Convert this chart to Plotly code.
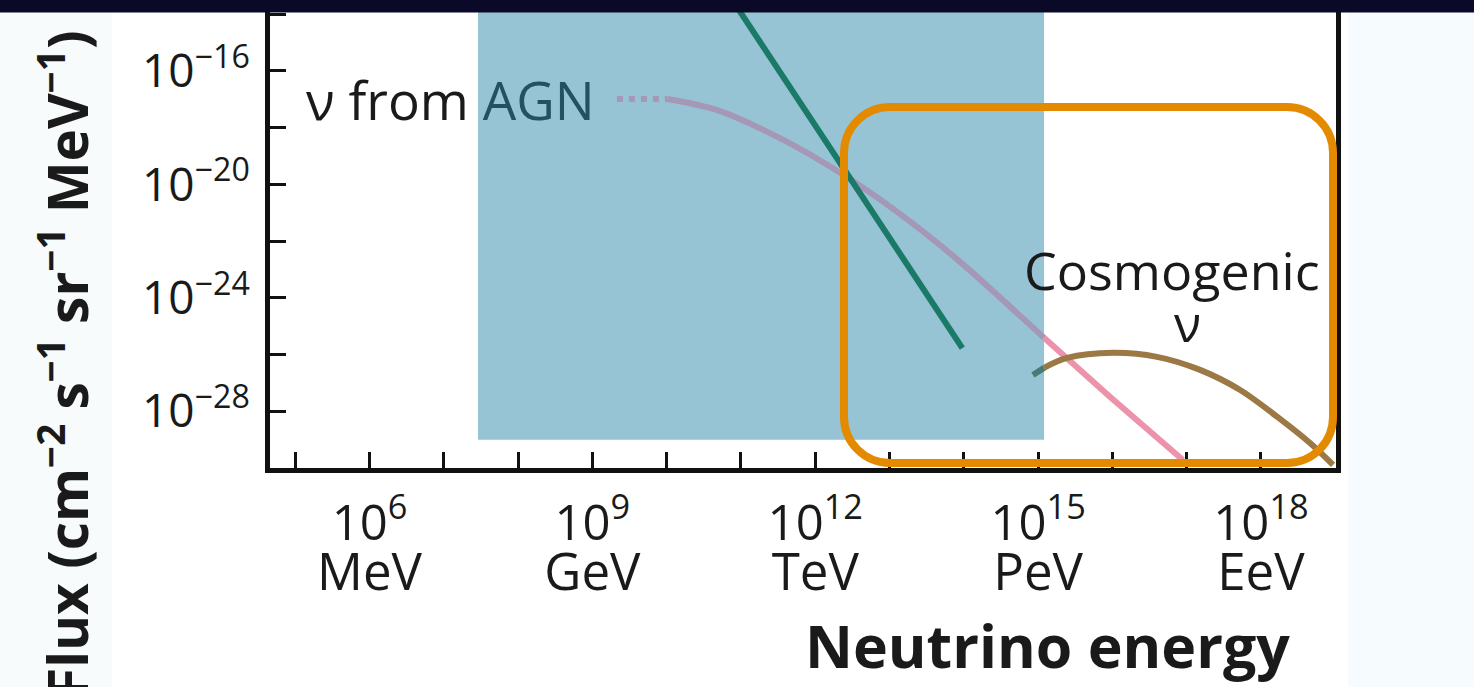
import plotly.graph_objects as go

# ---------------- data (log10 values) ----------------
# x: log10(energy / eV), y: log10(flux / cm^-2 s^-1 sr^-1 MeV^-1)
agn_dotted_logE = [9.33, 10.01]
agn_dotted_logF = [-16.99, -16.99]

agn_logE = [10.01, 10.68, 11.57, 12.34, 13.14, 13.95, 15.08]
agn_logF = [-16.99, -17.38, -18.43, -19.60, -21.04, -22.73, -25.41]

agn_tail_logE = [15.08, 15.97, 16.95]
agn_tail_logF = [-25.41, -27.50, -29.72]

atmo_logE = [10.95, 13.98]
atmo_logF = [-13.76, -25.77]

cosmo_in_band_logE = [14.93, 15.08]
cosmo_in_band_logF = [-26.72, -26.47]

cosmo_logE = [15.08, 15.39, 16.01, 16.60, 17.18, 17.72, 18.22, 18.66, 18.97]
cosmo_logF = [-26.47, -26.12, -25.94, -26.08, -26.54, -27.25, -28.20, -29.12, -29.89]

band_logE = [7.46, 15.08]
band_floor_logF = -29.0

x_tick_exps = list(range(5, 19))
x_label_exps = [6, 9, 12, 15, 18]
x_unit_labels = ["MeV", "GeV", "TeV", "PeV", "EeV"]
y_tick_exps = list(range(-28, -13, 2))
y_label_exps = [-28, -24, -20, -16]

x_range_log = [4.66, 19.01]
y_range_log = [-30.0, -13.92]

def p10(vals):
    return [10 ** v for v in vals]

# ---------------- figure ----------------
W, H = 1474, 687
L_PX, R_PX, T_PX, B_PX = 270, 1336, 12, 468
FONT = "Open Sans"
INK = "#1a1a1a"

fig = go.Figure()

fig.add_trace(go.Scatter(x=p10(agn_dotted_logE), y=p10(agn_dotted_logF), mode="lines",
                         line=dict(color="#a597b6", width=6, dash="dot"), hoverinfo="skip"))
fig.add_trace(go.Scatter(x=p10(agn_logE), y=p10(agn_logF), mode="lines",
                         line=dict(color="#a597b6", width=6, shape="spline", smoothing=0.8),
                         hoverinfo="skip"))
fig.add_trace(go.Scatter(x=p10(agn_tail_logE), y=p10(agn_tail_logF), mode="lines",
                         line=dict(color="#ec93ab", width=6), hoverinfo="skip"))
fig.add_trace(go.Scatter(x=p10(atmo_logE), y=p10(atmo_logF), mode="lines",
                         line=dict(color="#1b7a67", width=6), hoverinfo="skip"))
fig.add_trace(go.Scatter(x=p10(cosmo_in_band_logE), y=p10(cosmo_in_band_logF), mode="lines",
                         line=dict(color="#467c72", width=6), hoverinfo="skip"))
fig.add_trace(go.Scatter(x=p10(cosmo_logE), y=p10(cosmo_logF), mode="lines",
                         line=dict(color="#9c7944", width=6, shape="spline"), hoverinfo="skip"))
# invisible trace carrying the unit labels axis
fig.add_trace(go.Scatter(x=[10 ** e for e in x_label_exps], y=[None] * len(x_label_exps),
                         xaxis="x2", yaxis="y", mode="markers", marker=dict(opacity=0),
                         hoverinfo="skip", showlegend=False))

def px2x(p):
    return (p - L_PX) / (R_PX - L_PX)

def py2y(p):
    return (B_PX - p) / (B_PX - T_PX)

shapes = []
# light side strips of the slide
shapes.append(dict(type="rect", xref="paper", yref="paper", x0=px2x(0), x1=px2x(112),
                   y0=py2y(H), y1=py2y(0), fillcolor="#f7fbfb", line_width=0, layer="below"))
shapes.append(dict(type="rect", xref="paper", yref="paper", x0=px2x(1348), x1=px2x(W),
                   y0=py2y(H), y1=py2y(0), fillcolor="#f6fcfd", line_width=0, layer="below"))
# blue energy band
shapes.append(dict(type="rect", xref="x", yref="y", x0=10 ** band_logE[0], x1=10 ** band_logE[1],
                   y0=10 ** band_floor_logF, y1=1e-13, fillcolor="#96c4d5", line_width=0, layer="below"))

# orange rounded highlight box (paper coordinates)
Lb, Rb, Tb, Bb, r = 844, 1333, 107, 463, 46
k = 0.5523 * r
def P(x, y):
    return f"{px2x(x):.5f},{py2y(y):.5f}"
path = (f"M {P(Lb + r, Tb)} L {P(Rb - r, Tb)} "
        f"C {P(Rb - r + k, Tb)} {P(Rb, Tb + r - k)} {P(Rb, Tb + r)} "
        f"L {P(Rb, Bb - r)} "
        f"C {P(Rb, Bb - r + k)} {P(Rb - r + k, Bb)} {P(Rb - r, Bb)} "
        f"L {P(Lb + r, Bb)} "
        f"C {P(Lb + r - k, Bb)} {P(Lb, Bb - r + k)} {P(Lb, Bb - r)} "
        f"L {P(Lb, Tb + r)} "
        f"C {P(Lb, Tb + r - k)} {P(Lb + r - k, Tb)} {P(Lb + r, Tb)} Z")
shapes.append(dict(type="path", xref="paper", yref="paper", path=path,
                   line=dict(color="#e38a00", width=8), fillcolor="rgba(0,0,0,0)", layer="above"))
# navy slide band at the top
shapes.append(dict(type="rect", xref="paper", yref="paper", x0=px2x(0), x1=px2x(W),
                   y0=py2y(12.5), y1=py2y(0), fillcolor="#0a0a28", line_width=0, layer="above"))

annotations = [
    dict(xref="x", yref="y", x=5.12, y=-17.02, xanchor="left", yanchor="middle", showarrow=False,
         text="ν from <span style='color:#25505f'>AGN</span>",
         font=dict(family=FONT, size=53, color=INK)),
    dict(xref="x", yref="y", x=16.80, y=-23.0, xanchor="center", yanchor="middle", showarrow=False,
         text="Cosmogenic", font=dict(family=FONT, size=52, color=INK)),
    dict(xref="x", yref="y", x=17.01, y=-24.88, xanchor="center", yanchor="middle", showarrow=False,
         text="ν", font=dict(family=FONT, size=50, color=INK)),
    dict(xref="paper", yref="paper", x=px2x(1047), y=py2y(645), xanchor="center", yanchor="middle",
         showarrow=False, text="<b>Neutrino energy</b>", font=dict(family=FONT, size=59, color=INK)),
    dict(xref="paper", yref="paper", x=px2x(64), y=py2y(364), xanchor="center", yanchor="middle",
         showarrow=False, textangle=-90,
         text="<b>Flux (cm<sup>−2</sup> s<sup>−1</sup> sr<sup>−1</sup> MeV<sup>−1</sup>)</b>",
         font=dict(family=FONT, size=55, color=INK)),
]

x_ticktext = [f"10<sup>{e}</sup>" if e in x_label_exps else "" for e in x_tick_exps]
y_ticktext = [f"10<sup>−{-e}</sup>" if e in y_label_exps else "" for e in y_tick_exps]

fig.update_layout(
    width=W, height=H, autosize=False,
    margin=dict(l=L_PX, r=W - R_PX, t=T_PX, b=H - B_PX, pad=0),
    paper_bgcolor="#ffffff", plot_bgcolor="#ffffff",
    showlegend=False,
    shapes=shapes, annotations=annotations,
    xaxis=dict(type="log", range=x_range_log, showgrid=False, zeroline=False,
               showline=True, linecolor="#111111", linewidth=5, mirror=False,
               ticks="inside", ticklen=16, tickwidth=3, tickcolor="#111111",
               tickvals=[10 ** e for e in x_tick_exps], ticktext=x_ticktext,
               tickfont=dict(family=FONT, size=49, color=INK), ticklabelstandoff=8),
    xaxis2=dict(type="log", range=x_range_log, overlaying="x", anchor="y", side="bottom",
                showgrid=False, zeroline=False, showline=False, ticks="",
                tickvals=[10 ** e for e in x_label_exps], ticktext=x_unit_labels,
                tickfont=dict(family=FONT, size=51, color=INK), ticklabelstandoff=70),
    yaxis=dict(type="log", range=y_range_log, showgrid=False, zeroline=False,
               showline=True, linecolor="#111111", linewidth=5, mirror=True,
               ticks="inside", ticklen=16, tickwidth=3, tickcolor="#111111",
               tickvals=[10 ** e for e in y_tick_exps], ticktext=y_ticktext,
               tickfont=dict(family=FONT, size=46, color=INK), ticklabelstandoff=6),
)

fig.write_html("out.html")
